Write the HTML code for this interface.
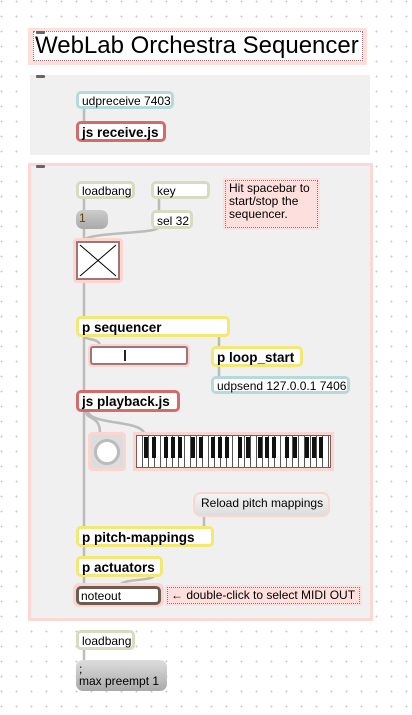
<!DOCTYPE html><html><head><style>
body{margin:0;width:412px;height:715px;overflow:hidden;background:#fff;background-image:radial-gradient(circle,#c8c8c8 0.8px,transparent 1px);background-size:15px 15px;background-position:-6px -6px;font-family:"Liberation Sans",sans-serif;position:relative}
.a{position:absolute;box-sizing:border-box}
.o{position:absolute;box-sizing:border-box;background:#fff;border-radius:5px;font-size:12px;padding:2px 3px;line-height:13px;white-space:nowrap;color:#000}
.b{font-weight:bold;font-size:13.5px;line-height:14px}
.g{border:3px solid #d5dcc0}
.t{border:3px solid #b6dada}
.r{border:3px solid #d46a6a}
.y{border:3px solid #f2e873}
.pc{position:absolute;height:3px;width:9px;background:#666;border-radius:1px}
svg{position:absolute;left:0;top:0}
</style></head><body>
<div class="a" style="left:28px;top:28px;width:339px;height:37px;background:#fde0dd;"></div>
<div class="a" style="left:33px;top:31px;width:330px;height:30px;background:#fff;border:1px dotted #a07070;font-size:24px;line-height:28px;padding-left:1px;white-space:nowrap;overflow:hidden">WebLab Orchestra Sequencer</div>
<div class="pc" style="left:36px;top:31px"></div>
<div class="a" style="left:30px;top:75px;width:340px;height:80px;background:#f0f0f0"></div>
<div class="pc" style="left:36px;top:75px"></div>
<div class="a" style="left:28px;top:163px;width:345px;height:458px;background:#f0f0f0;border:3px solid #fbd8d4"></div>
<div class="pc" style="left:36px;top:165px"></div>
<svg width="412" height="715">
<g stroke="#bbb" stroke-width="2.5" fill="none">
<line x1="84" y1="107" x2="84" y2="122"/>
<line x1="84" y1="197" x2="84" y2="586"/>
<line x1="159" y1="197" x2="159" y2="211"/>
<path d="M159 227 C159 234 90 232 84 240"/>
<path d="M84 336 C84 340 100 338 100 346"/>
<line x1="219" y1="335" x2="219" y2="347"/>
<line x1="219" y1="365" x2="219" y2="377"/>
<path d="M86 411 C86 420 100 415 100 433"/>
<path d="M88 411 C90 425 140 420 144 433"/>
<line x1="204" y1="515" x2="204" y2="527"/>
<path d="M154 575 C154 582 120 578 120 586"/>
<line x1="84" y1="649" x2="84" y2="661"/>
</g></svg>
<div class="o t" style="left:76px;top:91px;width:98px;height:18px;padding-top:1px">udpreceive 7403</div>
<div class="o r b" style="left:76px;top:121px;width:90px;height:21px">js receive.js</div>
<div class="o g" style="left:76px;top:181px;width:59px;height:18px;padding-top:1px">loadbang</div>
<div class="o g" style="left:151px;top:181px;width:59px;height:18px;padding-top:1px">key</div>
<div class="a" style="left:223px;top:178px;width:97px;height:52px;background:#fde0dd;padding:2px"><div style="border:1px dotted #a07070;height:100%;box-sizing:border-box;font-size:12px;line-height:13px;padding:1px 3px">Hit spacebar to start/stop the sequencer.</div></div>
<div class="o" style="left:76px;top:210px;width:32px;height:19px;background:linear-gradient(#ccc,#aaa);border-radius:7px;color:#640">1</div>
<div class="o g" style="left:151px;top:210px;width:42px;height:19px">sel 32</div>
<div class="a" style="left:73px;top:238px;width:50px;height:45px;background:#fbd5d0;border-radius:4px"></div>
<div class="a" style="left:76px;top:241px;width:44px;height:39px;background:#fff;border:2px solid #a07575"><svg width="40" height="35"><path d="M2 2L38 33M38 2L2 33" stroke="#000" stroke-width="1"/></svg></div>
<div class="o y b" style="left:76px;top:316px;width:154px;height:21px">p sequencer</div>
<div class="a" style="left:88px;top:344px;width:102px;height:23px;background:#fbd5d0;border-radius:4px;padding:2px"><div style="background:#fff;border:2px solid #a07575;border-radius:3px;height:100%;box-sizing:border-box;position:relative"><div style="position:absolute;left:32px;top:2px;width:2px;height:11px;background:#222"></div></div></div>
<div class="o y b" style="left:211px;top:346px;width:92px;height:21px">p loop_start</div>
<div class="o t" style="left:211px;top:376px;width:139px;height:18px;padding-top:1px">udpsend 127.0.0.1 7406</div>
<div class="o r b" style="left:76px;top:390px;width:104px;height:22px">js playback.js</div>
<div class="a" style="left:88px;top:432px;width:38px;height:39px;background:#fbd5d0;border-radius:4px;padding:3px"><div style="background:#ddd;height:100%;position:relative"><div style="position:absolute;left:3px;top:4px;width:26px;height:26px;box-sizing:border-box;border:3px solid #bbb;border-radius:50%;background:#fff"></div></div></div>
<div class="a" style="left:133px;top:432px;width:201px;height:39px;background:#fbd5d0;padding:3px"><div style="height:100%;border:1px solid #855;box-sizing:border-box;background:repeating-linear-gradient(90deg,#fff 0 5px,#555 5px 6px);position:relative"></div></div>
<svg width="412" height="715" style="pointer-events:none"><g fill="#111">
<rect x="144" y="437" width="4" height="21"/><rect x="152" y="437" width="4" height="21"/><rect x="164" y="437" width="4" height="21"/><rect x="171" y="437" width="4" height="21"/><rect x="178" y="437" width="4" height="21"/>
<rect x="191" y="437" width="4" height="21"/><rect x="199" y="437" width="4" height="21"/><rect x="211" y="437" width="4" height="21"/><rect x="218" y="437" width="4" height="21"/><rect x="225" y="437" width="4" height="21"/>
<rect x="238" y="437" width="4" height="21"/><rect x="246" y="437" width="4" height="21"/><rect x="258" y="437" width="4" height="21"/><rect x="265" y="437" width="4" height="21"/><rect x="272" y="437" width="4" height="21"/>
<rect x="285" y="437" width="4" height="21"/><rect x="293" y="437" width="4" height="21"/><rect x="305" y="437" width="4" height="21"/><rect x="312" y="437" width="4" height="21"/><rect x="319" y="437" width="4" height="21"/>
</g></svg>
<div class="a" style="left:193px;top:492px;width:137px;height:25px;background:#fbd5d0;border-radius:8px;padding:2px"><div style="background:linear-gradient(#f4f4f4,#ddd);border-radius:6px;height:100%;font-size:12px;line-height:18px;padding-left:6px">Reload pitch mappings</div></div>
<div class="o y b" style="left:76px;top:526px;width:138px;height:21px">p pitch-mappings</div>
<div class="o y b" style="left:76px;top:556px;width:87px;height:21px">p actuators</div>
<div class="a" style="left:73px;top:583px;width:91px;height:24px;background:#fbd5d0;border-radius:6px"></div>
<div class="o" style="left:76px;top:586px;width:85px;height:19px;border:3px solid #6d5d50;font-size:12px;padding:1px 2px">noteout</div>
<div class="a" style="left:165px;top:585px;width:197px;height:21px;background:#fde0dd;padding:2px"><div style="border:1px dotted #a07070;height:100%;box-sizing:border-box;font-size:12px;line-height:14px;padding-left:3px">← double-click to select MIDI OUT</div></div>
<div class="o g" style="left:76px;top:630px;width:59px;height:20px;padding-top:2px">loadbang</div>
<div class="o" style="left:76px;top:660px;width:91px;height:31px;background:linear-gradient(#ddd,#aaa);border-radius:7px;line-height:12px;padding-top:3px">;<br>max preempt 1</div>
</body></html>
